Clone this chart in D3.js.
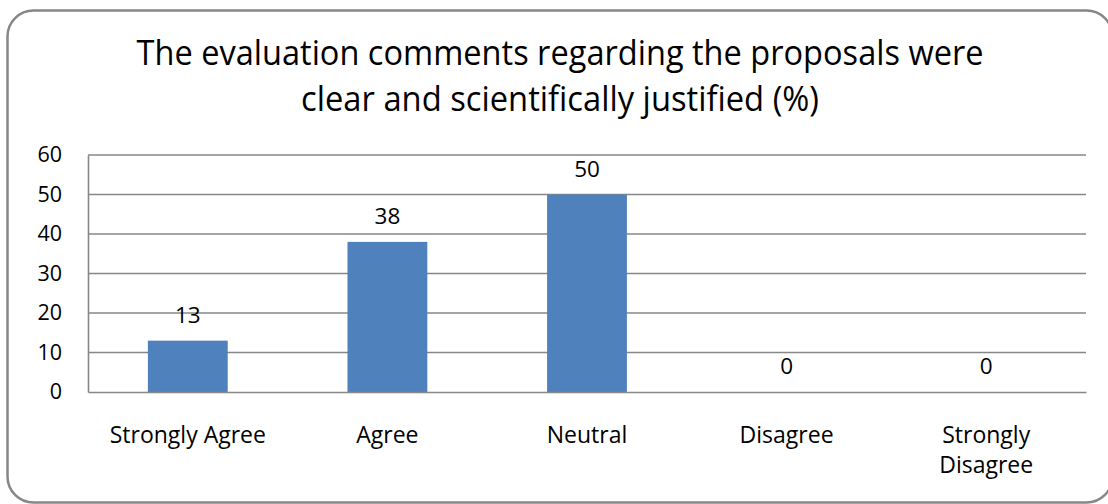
<!DOCTYPE html>
<html>
<head>
<meta charset="utf-8">
<script src="https://cdn.jsdelivr.net/npm/d3@7/dist/d3.min.js"></script>
<style>
  html, body { margin: 0; padding: 0; background: #ffffff; }
  svg { display: block; }
  text { font-family: "Open Sans", "Noto Sans", sans-serif; fill: #000; }
</style>
</head>
<body>
<svg id="chart" width="1108" height="504"></svg>
<script>
// Survey responses, percent of respondents
const categories = ["Strongly Agree", "Agree", "Neutral", "Disagree", "Strongly Disagree"];
const percentages = [13, 38, 50, 0, 0];
const yTicks = [0, 10, 20, 30, 40, 50, 60];
const titleLines = [
  "The evaluation comments regarding the proposals were",
  "clear and scientifically justified (%)"
];

const plot = { left: 88, right: 1086, top: 155, bottom: 392 };
const grey = "#878787";
const barColor = "#4F81BD";

const svg = d3.select("#chart");

// Chart frame with rounded corners
svg.append("rect")
  .attr("x", 7.5).attr("y", 10.5)
  .attr("width", 1105).attr("height", 492)
  .attr("rx", 26).attr("ry", 26)
  .attr("fill", "#fff")
  .attr("stroke", grey).attr("stroke-width", 2.5);

// Title (two lines)
const titleWidths = [847, 518];
svg.append("g").selectAll("text")
  .data(titleLines)
  .join("text")
  .attr("x", 560)
  .attr("y", (d, i) => 65 + i * 46)
  .attr("text-anchor", "middle")
  .attr("font-size", 35)
  .attr("textLength", (d, i) => titleWidths[i])
  .attr("lengthAdjust", "spacingAndGlyphs")
  .text(d => d);

// Scales
const x = d3.scaleBand()
  .domain(categories)
  .range([plot.left, plot.right])
  .padding(0);

const y = d3.scaleLinear()
  .domain([0, 60])
  .range([plot.bottom, plot.top]);

const barW = x.bandwidth() * 0.4;

// Horizontal gridlines
svg.append("g")
  .selectAll("line")
  .data(yTicks.filter(t => t > 0))
  .join("line")
  .attr("x1", plot.left).attr("x2", plot.right)
  .attr("y1", d => y(d)).attr("y2", d => y(d))
  .attr("stroke", grey).attr("stroke-width", 1.6);

// Y axis
const yAxis = d3.axisLeft(y).tickValues(yTicks).tickSize(0).tickPadding(26);
const gy = svg.append("g")
  .attr("transform", `translate(${plot.left},0)`)
  .call(yAxis);
gy.select(".domain").attr("stroke", grey).attr("stroke-width", 1.6);
gy.selectAll("text")
  .attr("font-size", 21.5)
  .attr("font-family", "'Open Sans', sans-serif")
  .attr("fill", "#000");

// Bars
svg.append("g")
  .selectAll("rect")
  .data(categories.map((c, i) => ({ c, v: percentages[i] })))
  .join("rect")
  .attr("x", d => x(d.c) + (x.bandwidth() - barW) / 2)
  .attr("y", d => y(d.v))
  .attr("width", barW)
  .attr("height", d => y(0) - y(d.v))
  .attr("fill", barColor);

// X axis baseline and category labels
const xAxis = d3.axisBottom(x).tickSize(0).tickPadding(0);
const gx = svg.append("g")
  .attr("transform", `translate(0,${plot.bottom})`)
  .call(xAxis);
gx.select(".domain").attr("stroke", grey).attr("stroke-width", 1.6);
gx.selectAll(".tick text").remove();

const catLabels = svg.append("g").selectAll("text")
  .data(categories)
  .join("text")
  .attr("x", d => x(d) + x.bandwidth() / 2)
  .attr("y", 443)
  .attr("text-anchor", "middle")
  .attr("font-size", 23);

// Wrap long category names onto two lines
catLabels.each(function(d) {
  const t = d3.select(this);
  if (d === "Strongly Disagree") {
    d.split(" ").forEach((w, i) => {
      t.append("tspan")
        .attr("x", x(d) + x.bandwidth() / 2)
        .attr("dy", i === 0 ? 0 : 30)
        .text(w);
    });
  } else {
    t.text(d);
  }
});

// Value labels above bars
svg.append("g").selectAll("text")
  .data(categories.map((c, i) => ({ c, v: percentages[i] })))
  .join("text")
  .attr("x", d => x(d.c) + x.bandwidth() / 2)
  .attr("y", d => y(d.v) - 18)
  .attr("text-anchor", "middle")
  .attr("font-size", 22.5)
  .text(d => d3.format("d")(d.v));
</script>
</body>
</html>
